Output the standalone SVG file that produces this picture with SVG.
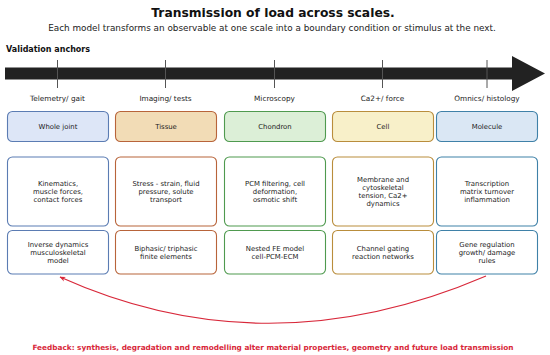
<svg xmlns="http://www.w3.org/2000/svg" width="550" height="355" viewBox="0 0 550 355">
<style>
text{font-family:"DejaVu Sans","Liberation Sans",sans-serif;fill:#222;text-anchor:middle}
.title{font-size:12.3px;font-weight:bold;fill:#111}
.sub{font-size:8.85px}
.anch{font-size:8px;font-weight:bold;text-anchor:start;fill:#111}
.lab{font-size:7.3px}
.t{font-size:6.9px}
.tick{stroke:#555;stroke-width:1}
.fb{font-size:7.32px;font-weight:bold;fill:#d8283a}
rect{stroke-width:1.1}
.c1{stroke:#5b7cb3}.c2{stroke:#b8643a}.c3{stroke:#4f9a4f}.c4{stroke:#b98d3c}.c5{stroke:#3f81a8}
.w{fill:#fff}
</style>
<defs>
<marker id="ah" viewBox="0 0 10 10" refX="9" refY="5" markerWidth="6" markerHeight="6" orient="auto-start-reverse" markerUnits="userSpaceOnUse">
<path d="M0,1 L10,5 L0,9 L3,5 Z" fill="#d8283a"/>
</marker>
</defs>
<rect width="550" height="355" fill="#fff" stroke="none"/>
<text class="title" x="273" y="16.5">Transmission of load across scales.</text>
<text class="sub" x="272" y="31">Each model transforms an observable at one scale into a boundary condition or stimulus at the next.</text>
<text class="anch" x="6" y="52">Validation anchors</text>
<g id="axis">
<path d="M5,67.5 H512 V56 L545,73.5 L512,91 V79.5 H5 Z" fill="#222"/>
<line class="tick" x1="57.5" y1="60" x2="57.5" y2="88"/>
<line class="tick" x1="165.5" y1="60" x2="165.5" y2="88"/>
<line class="tick" x1="274.5" y1="60" x2="274.5" y2="88"/>
<line class="tick" x1="382.5" y1="60" x2="382.5" y2="88"/>
<line class="tick" x1="487" y1="60" x2="487" y2="88"/>
</g>
<g id="col1">
<text class="lab" x="57.5" y="101">Telemetry/ gait</text>
<rect class="c1" x="7.5" y="111.5" width="101" height="30" rx="5" fill="#dde6f7"/>
<text class="t" x="58" y="128.5">Whole joint</text>
<rect class="c1 w" x="7.5" y="157" width="101" height="69" rx="5"/>
<text class="t" x="58" y="185.5">Kinematics,</text>
<text class="t" x="58" y="193.5">muscle forces,</text>
<text class="t" x="58" y="201.5">contact forces</text>
<rect class="c1 w" x="7.5" y="230.5" width="101" height="43.5" rx="5"/>
<text class="t" x="58" y="246.5">Inverse dynamics</text>
<text class="t" x="58" y="254.5">musculoskeletal</text>
<text class="t" x="58" y="262.5">model</text>
</g>
<g id="col2">
<text class="lab" x="165.5" y="101">Imaging/ tests</text>
<rect class="c2" x="115.5" y="111.5" width="101" height="30" rx="5" fill="#f2dcb6"/>
<text class="t" x="166" y="128.5">Tissue</text>
<rect class="c2 w" x="115.5" y="157" width="101" height="69" rx="5"/>
<text class="t" x="166" y="185.5">Stress - strain, fluid</text>
<text class="t" x="166" y="193.5">pressure, solute</text>
<text class="t" x="166" y="201.5">transport</text>
<rect class="c2 w" x="115.5" y="230.5" width="101" height="43.5" rx="5"/>
<text class="t" x="166" y="250.5">Biphasic/ triphasic</text>
<text class="t" x="166" y="258.5">finite elements</text>
</g>
<g id="col3">
<text class="lab" x="274.5" y="101">Microscopy</text>
<rect class="c3" x="224.5" y="111.5" width="101" height="30" rx="5" fill="#dcefd7"/>
<text class="t" x="275" y="128.5">Chondron</text>
<rect class="c3 w" x="224.5" y="157" width="101" height="69" rx="5"/>
<text class="t" x="275" y="185.5">PCM filtering, cell</text>
<text class="t" x="275" y="193.5">deformation,</text>
<text class="t" x="275" y="201.5">osmotic shift</text>
<rect class="c3 w" x="224.5" y="230.5" width="101" height="43.5" rx="5"/>
<text class="t" x="275" y="250.5">Nested FE model</text>
<text class="t" x="275" y="258.5">cell-PCM-ECM</text>
</g>
<g id="col4">
<text class="lab" x="382.5" y="101">Ca2+/ force</text>
<rect class="c4" x="332.5" y="111.5" width="101" height="30" rx="5" fill="#f8f0c9"/>
<text class="t" x="383" y="128.5">Cell</text>
<rect class="c4 w" x="332.5" y="157" width="101" height="69" rx="5"/>
<text class="t" x="383" y="181.5">Membrane and</text>
<text class="t" x="383" y="189.5">cytoskeletal</text>
<text class="t" x="383" y="197.5">tension, Ca2+</text>
<text class="t" x="383" y="205.5">dynamics</text>
<rect class="c4 w" x="332.5" y="230.5" width="101" height="43.5" rx="5"/>
<text class="t" x="383" y="250.5">Channel gating</text>
<text class="t" x="383" y="258.5">reaction networks</text>
</g>
<g id="col5">
<text class="lab" x="487" y="101">Omnics/ histology</text>
<rect class="c5" x="436.5" y="111.5" width="101" height="30" rx="5" fill="#dae7f4"/>
<text class="t" x="487" y="128.5">Molecule</text>
<rect class="c5 w" x="436.5" y="157" width="101" height="69" rx="5"/>
<text class="t" x="487" y="185.5">Transcription</text>
<text class="t" x="487" y="193.5">matrix turnover</text>
<text class="t" x="487" y="201.5">inflammation</text>
<rect class="c5 w" x="436.5" y="230.5" width="101" height="43.5" rx="5"/>
<text class="t" x="487" y="246.5">Gene regulation</text>
<text class="t" x="487" y="254.5">growth/ damage</text>
<text class="t" x="487" y="262.5">rules</text>
</g>
<g id="connectors">
<path d="M486,276 Q267,370 60,277" fill="none" stroke="#d8283a" stroke-width="1.2" marker-end="url(#ah)"/>
</g>
<text class="fb" x="273" y="350">Feedback: synthesis, degradation and remodelling alter material properties, geometry and future load transmission</text>
</svg>
